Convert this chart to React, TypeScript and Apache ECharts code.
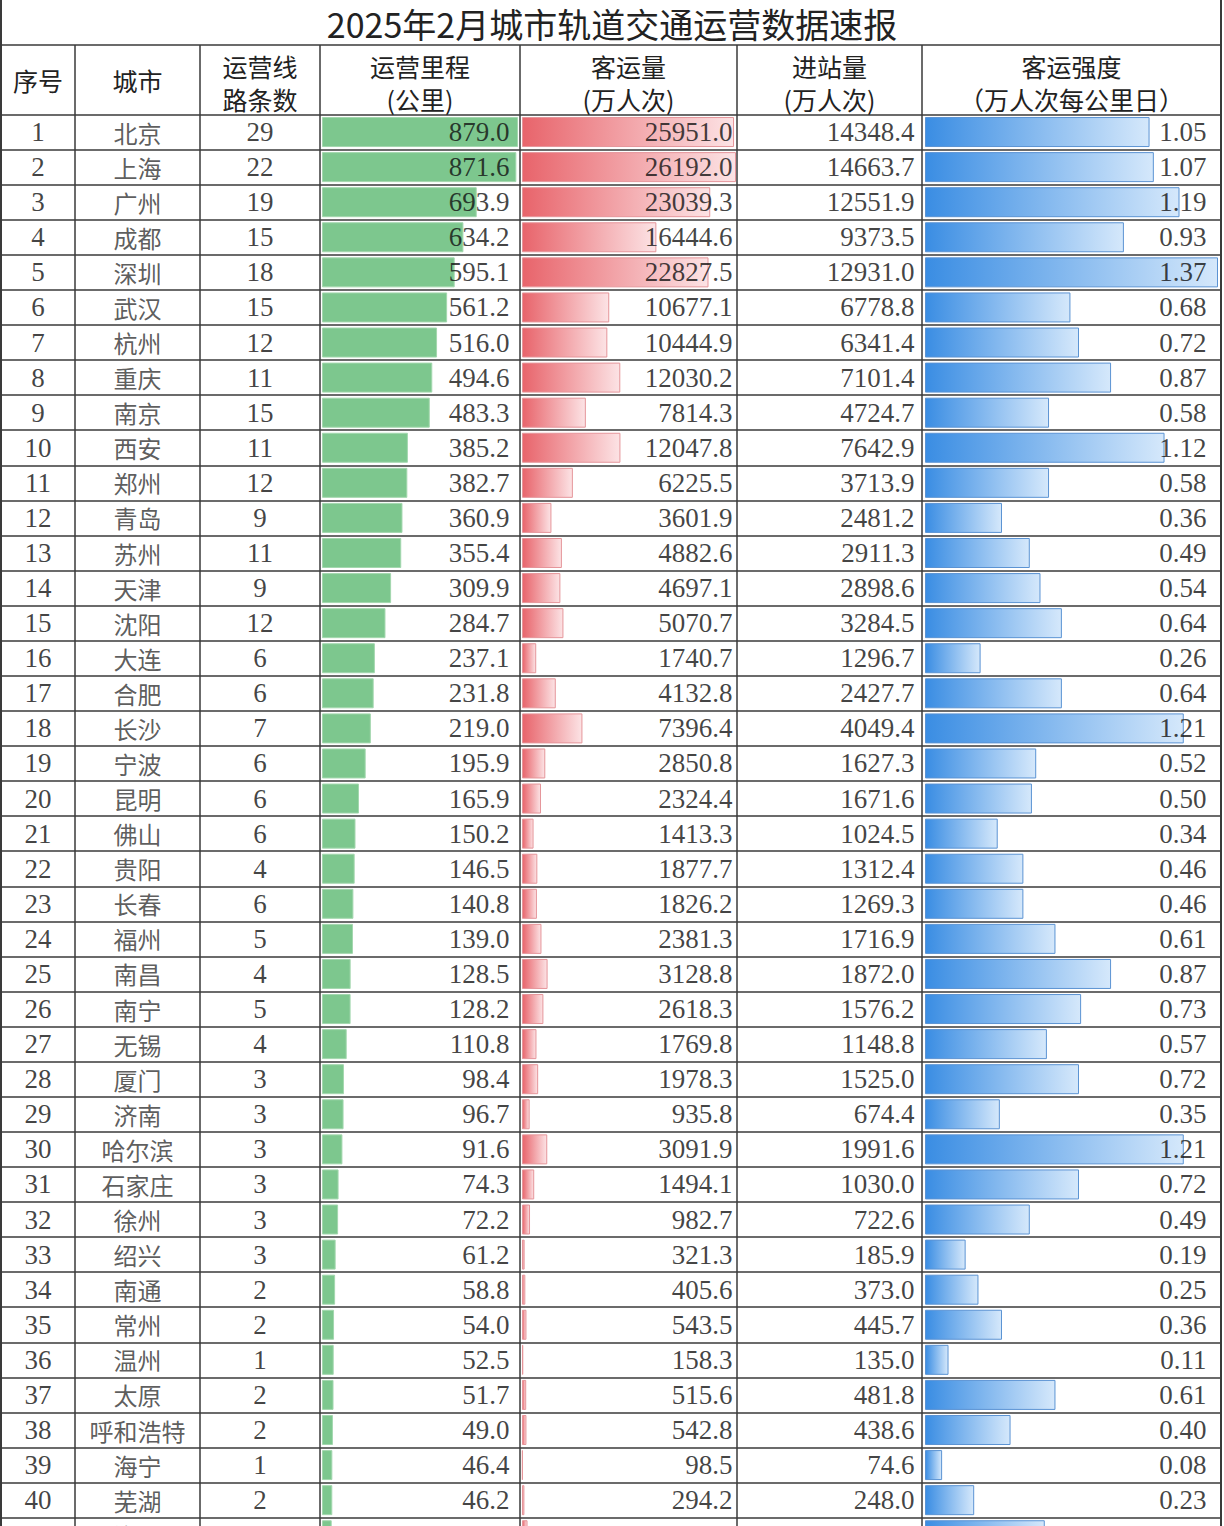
import React, { useEffect, useRef } from "react";
import * as echarts from "echarts";

const title = "2025年2月城市轨道交通运营数据速报";
const headers: string[][] = [
  ["序号"],
  ["城市"],
  ["运营线", "路条数"],
  ["运营里程", "(公里)"],
  ["客运量", "(万人次)"],
  ["进站量", "(万人次)"],
  ["客运强度", "（万人次每公里日）"],
];

const cities = ["北京","上海","广州","成都","深圳","武汉","杭州","重庆","南京","西安","郑州","青岛","苏州","天津","沈阳","大连","合肥","长沙","宁波","昆明","佛山","贵阳","长春","福州","南昌","南宁","无锡","厦门","济南","哈尔滨","石家庄","徐州","绍兴","南通","常州","温州","太原","呼和浩特","海宁","芜湖","洛阳"];
const lineCounts = [29,22,19,15,18,15,12,11,15,11,12,9,11,9,12,6,6,7,6,6,6,4,6,5,4,5,4,3,3,3,3,3,3,2,2,1,2,2,1,2,2];
const mileage = [879.0,871.6,693.9,634.2,595.1,561.2,516.0,494.6,483.3,385.2,382.7,360.9,355.4,309.9,284.7,237.1,231.8,219.0,195.9,165.9,150.2,146.5,140.8,139.0,128.5,128.2,110.8,98.4,96.7,91.6,74.3,72.2,61.2,58.8,54.0,52.5,51.7,49.0,46.4,46.2,43.5];
const volume = [25951.0,26192.0,23039.3,16444.6,22827.5,10677.1,10444.9,12030.2,7814.3,12047.8,6225.5,3601.9,4882.6,4697.1,5070.7,1740.7,4132.8,7396.4,2850.8,2324.4,1413.3,1877.7,1826.2,2381.3,3128.8,2618.3,1769.8,1978.3,935.8,3091.9,1494.1,982.7,321.3,405.6,543.5,158.3,515.6,542.8,98.5,294.2,678.6];
const entries = [14348.4,14663.7,12551.9,9373.5,12931.0,6778.8,6341.4,7101.4,4724.7,7642.9,3713.9,2481.2,2911.3,2898.6,3284.5,1296.7,2427.7,4049.4,1627.3,1671.6,1024.5,1312.4,1269.3,1716.9,1872.0,1576.2,1148.8,1525.0,674.4,1991.6,1030.0,722.6,185.9,373.0,445.7,135.0,481.8,438.6,74.6,248.0,516.3];
const intensity = [1.05,1.07,1.19,0.93,1.37,0.68,0.72,0.87,0.58,1.12,0.58,0.36,0.49,0.54,0.64,0.26,0.64,1.21,0.52,0.50,0.34,0.46,0.46,0.61,0.87,0.73,0.57,0.72,0.35,1.21,0.72,0.49,0.19,0.25,0.36,0.11,0.61,0.40,0.08,0.23,0.56];

const colEdges = [1, 75, 200, 320, 520, 737, 922, 1221];

const NUM_FONT = '"Liberation Serif", "Noto Sans CJK SC", serif';
const CJK_FONT = '"Noto Sans CJK SC", sans-serif';
const LINE_COLOR = "#3a3a3a";
const CHART_H = 1570;

export default function App() {
  const ref = useRef<HTMLDivElement>(null);
  useEffect(() => {
    if (!ref.current) return;
    const chart = echarts.init(ref.current, null, { renderer: "svg" });
    const n = cities.length;
    const rowIdx = cities.map((_, i) => String(i + 1));
    const gridTop = 114.5;
    const rowH = 35.08;
    const gridH = rowH * n;
    const grids: any[] = [];
    const xAxes: any[] = [];
    const yAxes: any[] = [];
    const series: any[] = [];

    const addGrid = (left: number, width: number, max: number) => {
      const i = grids.length;
      grids.push({ left, width, top: gridTop, height: gridH, containLabel: false });
      xAxes.push({ type: "value", gridIndex: i, min: 0, max, show: false });
      yAxes.push({ type: "category", gridIndex: i, data: rowIdx, inverse: true, show: false });
      return i;
    };

    // background grid: horizontal row lines
    const bg = addGrid(1, 1220, 1);
    yAxes[bg] = {
      ...yAxes[bg],
      show: true,
      axisLine: { show: false },
      axisTick: { show: false },
      axisLabel: { show: false },
      splitLine: { show: true, interval: 0, lineStyle: { color: LINE_COLOR, width: 1.5 } },
    };

    const textColumn = (left: number, width: number, values: string[], font: string, size: number, color: string) => {
      const g = addGrid(left, width, 1);
      series.push({
        type: "scatter",
        xAxisIndex: g,
        yAxisIndex: g,
        symbolSize: 1,
        clip: false,
        itemStyle: { color: "rgba(0,0,0,0)" },
        data: values.map((v, i) => ({ value: [0.5, i], name: v })),
        label: {
          show: true,
          position: "inside",
          formatter: "{b}",
          fontFamily: font,
          fontSize: size,
          color,
        },
        z: 3,
      });
    };

    const numberLabels = (g: number, max: number, values: string[], distance: number) => {
      series.push({
        type: "scatter",
        xAxisIndex: g,
        yAxisIndex: g,
        symbolSize: 1,
        clip: false,
        itemStyle: { color: "rgba(0,0,0,0)" },
        data: values.map((v, i) => ({ value: [max, i], name: v })),
        label: {
          show: true,
          position: "left",
          distance,
          formatter: "{b}",
          fontFamily: NUM_FONT,
          fontSize: 27,
          color: "#111",
        },
        z: 5,
      });
    };

    textColumn(1, 74, cities.map((_, i) => String(i + 1)), NUM_FONT, 27, "#111");
    textColumn(75, 125, cities, CJK_FONT, 24, "#333");
    textColumn(200, 120, lineCounts.map((v) => String(v)), NUM_FONT, 27, "#111");

    // mileage (green bars)
    const mMax = Math.max(...mileage);
    const gm = addGrid(322, 196, mMax);
    series.push({
      type: "bar",
      xAxisIndex: gm,
      yAxisIndex: gm,
      barWidth: 30,
      data: mileage,
      itemStyle: { color: "#7dc78e", borderColor: "#a3d7ae", borderWidth: 1 },
      z: 2,
    });
    numberLabels(gm, mMax, mileage.map((v) => v.toFixed(1)), 8);

    // passenger volume (red gradient bars)
    const vMax = Math.max(...volume);
    const gv = addGrid(522, 214, vMax);
    series.push({
      type: "bar",
      xAxisIndex: gv,
      yAxisIndex: gv,
      barWidth: 30,
      data: volume,
      itemStyle: {
        color: new echarts.graphic.LinearGradient(0, 0, 1, 0, [
          { offset: 0, color: "#e8646b" },
          { offset: 1, color: "#fce3e5" },
        ]),
        borderColor: "#e5959a",
        borderWidth: 1,
      },
      z: 2,
    });
    numberLabels(gv, vMax, volume.map((v) => v.toFixed(1)), 3);

    // entries (plain numbers)
    const ge = addGrid(737, 185, 1);
    numberLabels(ge, 1, entries.map((v) => v.toFixed(1)), 7);

    // intensity (blue gradient bars)
    const iMax = Math.max(...intensity);
    const gi = addGrid(925, 293, iMax);
    series.push({
      type: "bar",
      xAxisIndex: gi,
      yAxisIndex: gi,
      barWidth: 30,
      data: intensity,
      itemStyle: {
        color: new echarts.graphic.LinearGradient(0, 0, 1, 0, [
          { offset: 0, color: "#3a8de3" },
          { offset: 1, color: "#d5e8fb" },
        ]),
        borderColor: "#5b93d3",
        borderWidth: 1,
      },
      z: 2,
    });
    numberLabels(gi, iMax, intensity.map((v) => v.toFixed(2)), 11);

    // graphics: title, headers, vertical lines
    const graphic: any[] = [];
    graphic.push({
      type: "text",
      x: 612,
      y: 23,
      z: 10,
      style: {
        text: title,
        font: `34px ${CJK_FONT}`,
        fill: "#222",
        align: "center",
        verticalAlign: "middle",
        textAlign: "center",
        textVerticalAlign: "middle",
      },
    });
    headers.forEach((h, ci) => {
      const cx = (colEdges[ci] + colEdges[ci + 1]) / 2;
      const ys = h.length === 1 ? [80] : [66, 99];
      h.forEach((t, k) => {
        graphic.push({
          type: "text",
          x: cx,
          y: ys[k],
          z: 10,
          style: {
            text: t,
            font: `25px ${CJK_FONT}`,
            fill: "#222",
            align: "center",
            verticalAlign: "middle",
            textAlign: "center",
            textVerticalAlign: "middle",
          },
        });
      });
    });
    colEdges.forEach((x, i) => {
      const isBorder = i === 0 || i === colEdges.length - 1;
      graphic.push({
        type: "line",
        z: 10,
        shape: { x1: x, y1: isBorder ? 0 : 45, x2: x, y2: CHART_H },
        style: { stroke: LINE_COLOR, lineWidth: isBorder ? 2 : 1.5 },
      });
    });
    graphic.push({
      type: "line",
      z: 10,
      shape: { x1: 0, y1: 45, x2: 1222, y2: 45 },
      style: { stroke: LINE_COLOR, lineWidth: 1.5 },
    });

    chart.setOption({
      animation: false,
      backgroundColor: "#ffffff",
      grid: grids,
      xAxis: xAxes,
      yAxis: yAxes,
      series,
      graphic,
    });
    return () => chart.dispose();
  }, []);

  return (
    <div
      style={{
        position: "absolute",
        left: 0,
        top: 0,
        width: 1224,
        height: 1526,
        overflow: "hidden",
        background: "#fff",
      }}
    >
      <div ref={ref} style={{ width: 1224, height: CHART_H }} />
    </div>
  );
}
